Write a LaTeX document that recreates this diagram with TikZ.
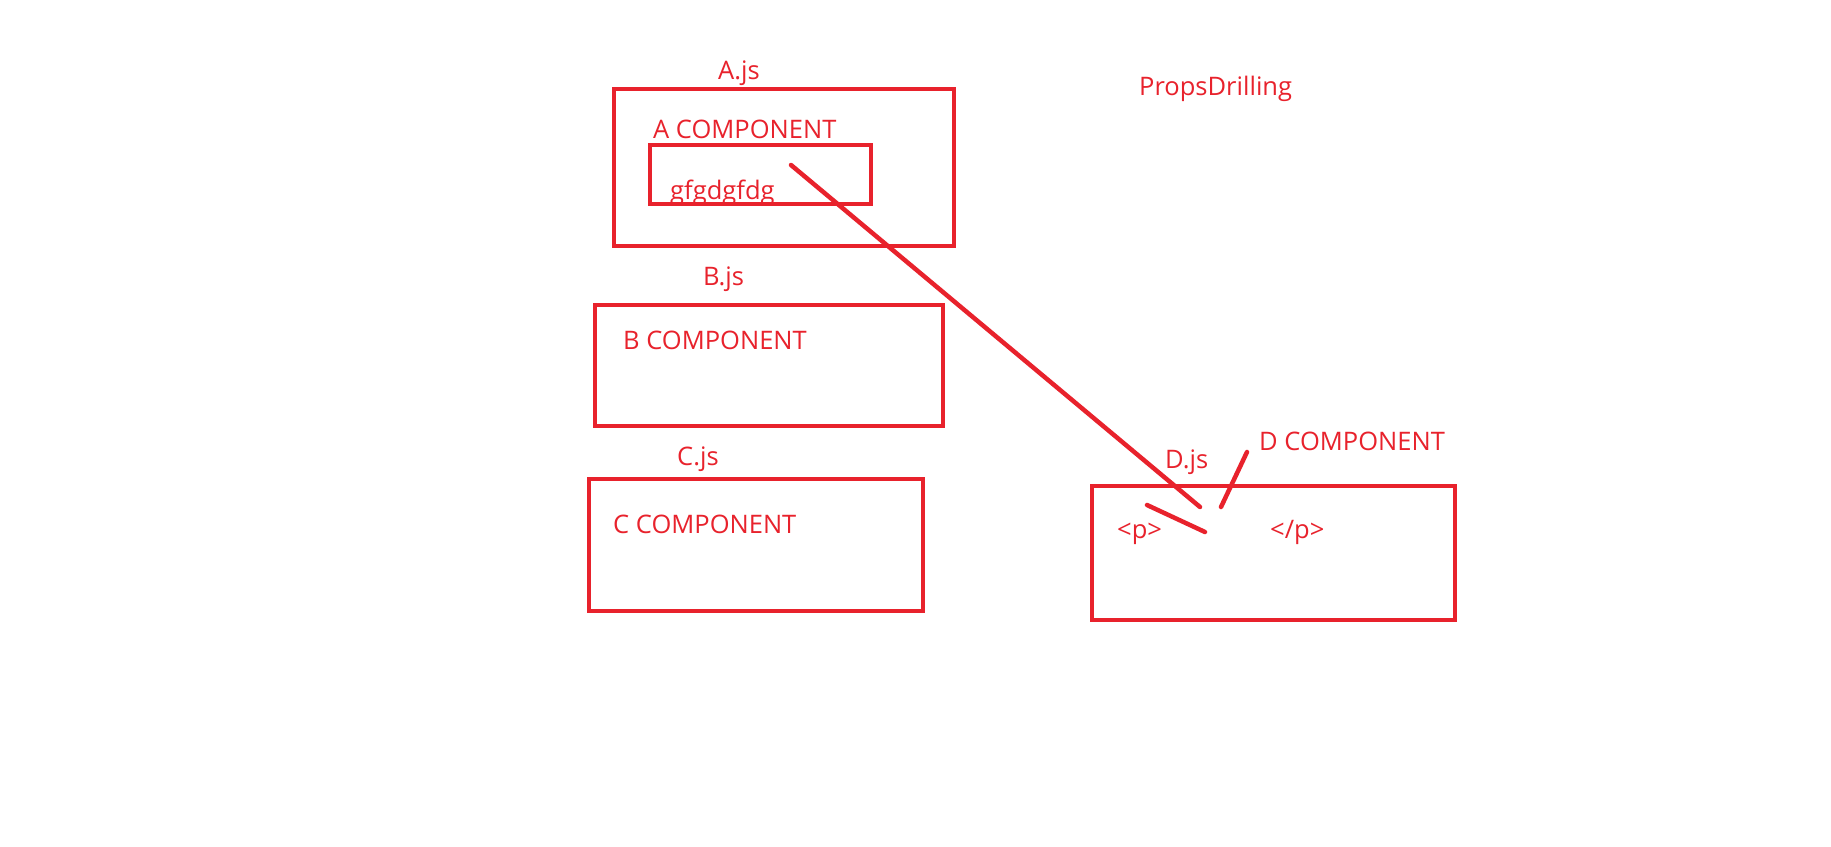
\documentclass[tikz,border=0pt]{standalone}
\usepackage{fontspec}
\setmainfont{Open Sans}
\definecolor{pen}{RGB}{232,34,44}
\begin{document}
\begin{tikzpicture}[x=1pt,y=-1pt,
  box/.style={draw=pen,line width=4.5pt,rectangle,inner sep=0pt},
  lbl/.style={text=pen,anchor=base west,inner sep=0pt,font=\fontsize{25.5}{30}\selectfont},
  stroke/.style={draw=pen,line width=4.5pt,line cap=round}]
\useasboundingbox[fill=white] (0,0) rectangle (1831,846);
% labels
\node[lbl] (ajs) at (718,79) {A.js};
\node[lbl] (acomp) at (653,138) {A COMPONENT};
\begin{scope}
\clip (600,150) rectangle (900,202);
\node[lbl] (gf) at (670,199) {gfgdgfdg};
\end{scope}
\node[lbl] (bjs) at (703,285) {B.js};
\node[lbl] (bcomp) at (623,349) {B COMPONENT};
\node[lbl] (cjs) at (677,465) {C.js};
\node[lbl] (ccomp) at (613,533) {C COMPONENT};
\node[lbl] (props) at (1139,95) {PropsDrilling};
\node[lbl] (djs) at (1165,468) {D.js};
\node[lbl] (dcomp) at (1259,450) {D COMPONENT};
\node[lbl] (popen) at (1117,538) {<p>};
\node[lbl] (pclose) at (1270,538) {</p>};
% boxes
\node[box,minimum width=340pt,minimum height=157pt] (A) at (784,167.5) {};
\node[box,minimum width=221pt,minimum height=59pt] (Ain) at (760.5,174.5) {};
\node[box,minimum width=348pt,minimum height=121pt] (B) at (769,365.5) {};
\node[box,minimum width=334pt,minimum height=132pt] (C) at (756,545) {};
\node[box,minimum width=363pt,minimum height=134pt] (D) at (1273.5,553) {};
% strokes
\coordinate (s1) at (791,165);
\coordinate (e1) at (1200,507);
\coordinate (s2) at (1247,452);
\coordinate (e2) at (1221,507);
\coordinate (s3) at (1147,505);
\coordinate (e3) at (1205,532);
\draw[stroke] (s1) -- (e1);
\draw[stroke] (s2) -- (e2);
\draw[stroke] (s3) -- (e3);
\end{tikzpicture}
\end{document}
